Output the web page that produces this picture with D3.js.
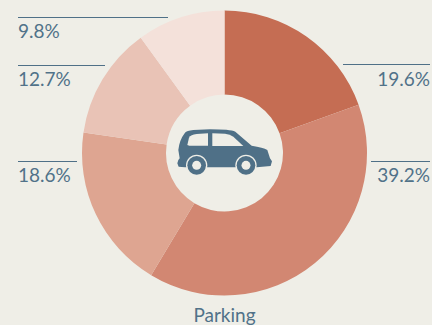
<!DOCTYPE html>
<html>
<head>
<meta charset="utf-8">
<script src="https://cdn.jsdelivr.net/npm/d3@7"></script>
<style>
  html, body { margin: 0; padding: 0; background: #efeee7; }
  svg { display: block; }
  text { font-family: Lato, "Open Sans", sans-serif; fill: #517289; }
</style>
</head>
<body>
<svg id="chart" width="432" height="325"></svg>
<script>
// slice sizes as measured on the picture, they differ a little from the printed labels
const sliceShares = [19.5, 39.1, 18.7, 12.7, 10.0];
const shareLabels = ["19.6%", "39.2%", "18.6%", "12.7%", "9.8%"];
const sliceColors = ["#c56d53", "#d28772", "#dea591", "#e9c3b6", "#f4e1da"];
const title = "Parking";

const bg = "#efeee7";
const ink = "#4f7087";
const width = 432;
const height = 325;
const cx = 224.5;
const cy = 153;

// leader line and label spot for each slice, same order as sliceShares
const leaders = [
  { x1: 343, x2: 430, y: 64.5, base: 86, anchor: "end" },
  { x1: 371, x2: 430, y: 161.5, base: 182, anchor: "end" },
  { x1: 18, x2: 77, y: 161.5, base: 182, anchor: "start" },
  { x1: 18, x2: 105, y: 65.5, base: 86, anchor: "start" },
  { x1: 18, x2: 168, y: 17.5, base: 38, anchor: "start" }
];

const svg = d3.select("#chart");

const pie = d3.pie().sort(null).value((d) => d);
const arc = d3.arc().innerRadius(58.5).outerRadius(142.5);

svg.append("g")
  .attr("transform", `translate(${cx},${cy})`)
  .selectAll("path")
  .data(pie(sliceShares))
  .enter()
  .append("path")
  .attr("d", arc)
  .attr("fill", (d, i) => sliceColors[i]);

leaders.forEach((l, i) => {
  svg.append("line")
    .attr("x1", l.x1).attr("x2", l.x2)
    .attr("y1", l.y).attr("y2", l.y)
    .attr("stroke", ink)
    .attr("stroke-width", 1);
  svg.append("text")
    .attr("x", l.anchor === "end" ? l.x2 : l.x1)
    .attr("y", l.base)
    .attr("text-anchor", l.anchor)
    .attr("font-size", 19)
    .text(shareLabels[i]);
});

svg.append("text")
  .attr("x", 224.5)
  .attr("y", 322)
  .attr("text-anchor", "middle")
  .attr("font-size", 19)
  .text(title);

// car icon, traced in 3x units so it lines up with the hole of the donut
const car = svg.append("g").attr("transform", "translate(150,90) scale(0.3333)");
car.append("path")
  .attr("fill", ink)
  .attr("d", "M82 220 L85 210 L89 205 L85 180 Q88 150 105 128 Q110 122 130 120 L180 118 Q240 118 256 125 L305 167 Q340 172 352 180 L360 205 L366 214 L362 228 L320 232 L250 232 L170 232 L105 232 L86 230 Z");
car.append("path")
  .attr("fill", bg)
  .attr("d", "M112 165 L117 143 Q122 134 140 132 L174 130 L174 167 L118 167 Z");
car.append("path")
  .attr("fill", bg)
  .attr("d", "M187 130 L225 131 Q240 133 250 140 L280 168 L187 168 Z");
[140, 288].forEach((wx) => {
  car.append("circle").attr("cx", wx).attr("cy", 226).attr("r", 32).attr("fill", bg);
  car.append("circle").attr("cx", wx).attr("cy", 226).attr("r", 28).attr("fill", ink);
  car.append("circle").attr("cx", wx).attr("cy", 226).attr("r", 13.5).attr("fill", bg);
});
</script>
</body>
</html>
